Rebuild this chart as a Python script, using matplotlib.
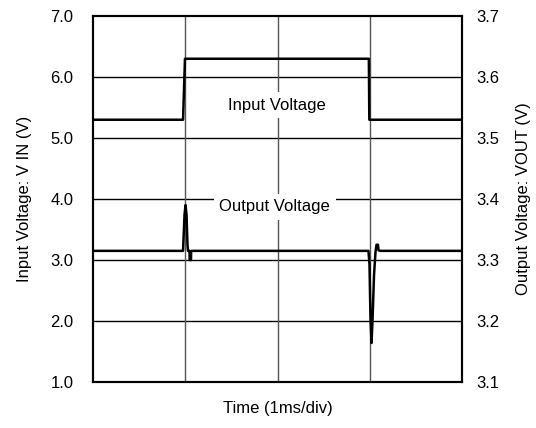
import numpy as np
import matplotlib.pyplot as plt

plt.rcParams['font.family'] = ['Liberation Sans', 'DejaVu Sans']

# 时间 (ms)，输入电压 (V)
t_in = [0.0, 0.976, 0.997, 2.99, 2.995, 4.0]
v_in = [5.3, 5.3, 6.3, 6.3, 5.3, 5.3]

# 输出电压 (V)
t_out = [0.0, 0.976, 0.992, 1.003, 1.014, 1.024, 1.030, 1.046, 1.048, 1.062, 1.064,
         2.986, 2.997, 3.008, 3.019, 3.030, 3.046, 3.062, 3.073, 3.089, 3.095, 3.111, 4.0]
v_out = [3.315, 3.315, 3.374, 3.390, 3.374, 3.325, 3.315, 3.315, 3.300, 3.300, 3.315,
         3.315, 3.292, 3.202, 3.164, 3.202, 3.275, 3.313, 3.325, 3.325, 3.316, 3.315, 3.315]

left_ticks = [1.0, 2.0, 3.0, 4.0, 5.0, 6.0, 7.0]
right_ticks = [3.1, 3.2, 3.3, 3.4, 3.5, 3.6, 3.7]

fig = plt.figure(figsize=(5.36, 4.28), dpi=100)
ax = fig.add_axes([0.1735, 0.1075, 0.6885, 0.855])
ax.set_xlim(0, 4)
ax.set_ylim(1, 7)

# 网格
for y in left_ticks[1:-1]:
    ax.axhline(y, color='black', lw=1.0, zorder=1)
for x in [1, 2, 3]:
    ax.axvline(x, color='#555555', lw=1.0, zorder=1)

ax.plot(t_in, v_in, color='black', lw=1.8, zorder=3)

ax2 = ax.twinx()
ax2.set_ylim(3.1, 3.7)
ax2.plot(t_out, v_out, color='black', lw=1.8, zorder=3)

ax.set_xticks([])
ax.set_yticks(left_ticks)
ax.set_yticklabels([f"{v:.1f}" for v in left_ticks], fontsize=12)
ax2.set_yticks(right_ticks)
ax2.set_yticklabels([f"{v:.1f}" for v in right_ticks], fontsize=12)
ax.tick_params(axis='y', length=0, pad=14)
ax2.tick_params(axis='y', length=0, pad=10)

for a in (ax, ax2):
    for s in a.spines.values():
        s.set_linewidth(1.5)
        s.set_color('black')

ax2.text(1.99, 3.554, "Input Voltage", fontsize=12, ha='center', va='center', zorder=5,
         bbox=dict(facecolor='white', edgecolor='none', pad=4))
ax2.text(1.97, 3.387, "Output Voltage", fontsize=12, ha='center', va='center', zorder=5,
         bbox=dict(facecolor='white', edgecolor='none', pad=4))

ax.set_xlabel("Time (1ms/div)", fontsize=12, labelpad=14)
ax.set_ylabel("Input Voltage: V IN (V)", fontsize=12, labelpad=13)
ax2.set_ylabel("Output Voltage: VOUT (V)", fontsize=12, rotation=90, labelpad=12)

fig.savefig("out.png", dpi=100)
